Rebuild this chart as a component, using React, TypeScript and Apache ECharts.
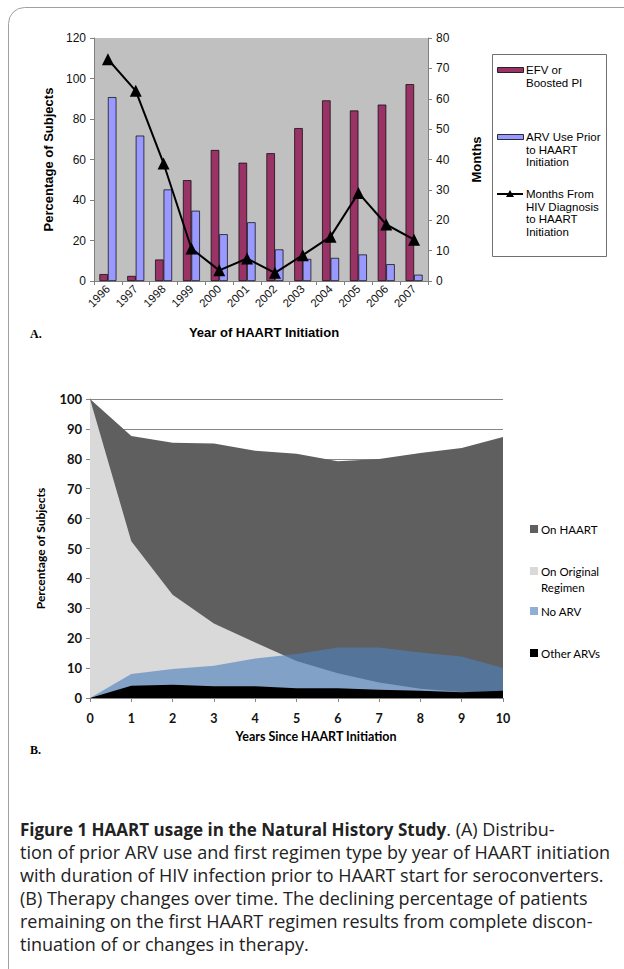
import React, { useEffect, useRef } from "react";
import * as echarts from "echarts";

const years = ["1996", "1997", "1998", "1999", "2000", "2001", "2002", "2003", "2004", "2005", "2006", "2007"];
const efvBoostedPct = [3.4, 2.5, 10.6, 49.8, 64.7, 58.4, 63.1, 75.5, 89.2, 84.2, 87.1, 97.2];
const arvPriorPct = [90.8, 71.8, 45.2, 34.7, 23.1, 29, 15.6, 10.9, 11.4, 13.1, 8.3, 3.1];
const monthsToHaart = [73, 62.6, 38.7, 10.7, 3.5, 7.4, 2.7, 8.5, 14.6, 29, 18.6, 13.6];

const yearsSince = [0, 1, 2, 3, 4, 5, 6, 7, 8, 9, 10];
const onHaart = [100, 87.6, 85.4, 85.1, 82.7, 81.7, 79.2, 79.9, 81.9, 83.6, 87.3];
const onOriginal = [100, 52.4, 34.5, 24.9, 18.6, 12.4, 8.3, 5.2, 3.1, 2.0, 2.0];
const noArv = [0, 8, 9.7, 10.8, 13.2, 14.7, 16.9, 16.9, 15.2, 13.9, 10];
const otherArvs = [0, 4.1, 4.4, 3.9, 3.9, 3.3, 3.3, 2.8, 2.4, 1.9, 2.4];

const pairs = (ys: number[]) => yearsSince.map((x, i) => [x, ys[i]]);

const arial = "Arial, 'Liberation Sans', sans-serif";
const calibri = "Lato, 'Open Sans', sans-serif";
const caption = "'Open Sans', 'Noto Sans', sans-serif";
const capSize = 18;

export default function App() {
  const ref = useRef<HTMLDivElement>(null);
  useEffect(() => {
    if (!ref.current) return;
    const chart = echarts.init(ref.current, null, { renderer: "svg" });
    const txt = (text: string, x: number, y: number, extra: any = {}) => ({
      type: "text",
      style: { text, x, y, fill: "#000", font: `11.5px ${arial}`, verticalAlign: "middle", align: "left", ...extra },
    });
    const capLine = (text: string, y: number) => txt(text, 20, y, { font: `${capSize}px ${caption}`, fill: "#222" });
    chart.setOption({
      animation: false,
      backgroundColor: "#fff",
      grid: [
        { left: 94, top: 38, width: 334, height: 243, show: true, backgroundColor: "#C0C0C0", borderWidth: 0 },
        { left: 90, top: 399, width: 413, height: 299 },
      ],
      xAxis: [
        {
          type: "category",
          gridIndex: 0,
          data: years,
          boundaryGap: true,
          axisLine: { lineStyle: { color: "#808080" } },
          axisTick: { show: true, length: 4, lineStyle: { color: "#808080" } },
          axisLabel: { rotate: 45, fontFamily: arial, fontSize: 11.5, color: "#111", margin: 6 },
        },
        {
          type: "value",
          gridIndex: 1,
          min: 0,
          max: 10,
          interval: 1,
          axisLine: { show: true, lineStyle: { color: "#868686" } },
          axisTick: { show: true, length: 4, lineStyle: { color: "#868686" } },
          axisLabel: { fontFamily: calibri, fontSize: 12.5, fontWeight: "bold", color: "#111", margin: 14 },
          splitLine: { show: false },
        },
      ],
      yAxis: [
        {
          type: "value",
          gridIndex: 0,
          min: 0,
          max: 120,
          interval: 20,
          name: "Percentage of Subjects",
          nameLocation: "middle",
          nameRotate: 90,
          nameGap: 32,
          nameTextStyle: { fontFamily: arial, fontSize: 13, fontWeight: "bold", color: "#000" },
          axisLine: { show: true, lineStyle: { color: "#808080" } },
          axisTick: { show: true, length: 4, lineStyle: { color: "#808080" } },
          axisLabel: { fontFamily: arial, fontSize: 12, color: "#111", margin: 8 },
          splitLine: { show: false },
        },
        {
          type: "value",
          gridIndex: 0,
          position: "right",
          min: 0,
          max: 80,
          interval: 10,
          name: "Months",
          nameLocation: "middle",
          nameRotate: 90,
          nameGap: 42,
          nameTextStyle: { fontFamily: arial, fontSize: 13, fontWeight: "bold", color: "#000" },
          axisLine: { show: true, lineStyle: { color: "#808080" } },
          axisTick: { show: true, length: 4, lineStyle: { color: "#808080" } },
          axisLabel: { fontFamily: arial, fontSize: 12, color: "#111", margin: 8 },
          splitLine: { show: false },
        },
        {
          type: "value",
          gridIndex: 1,
          min: 0,
          max: 100,
          interval: 10,
          name: "Percentage of Subjects",
          nameLocation: "middle",
          nameRotate: 90,
          nameGap: 44,
          nameTextStyle: { fontFamily: calibri, fontSize: 12, fontWeight: "bold", color: "#000" },
          axisLine: { show: true, lineStyle: { color: "#868686" } },
          axisTick: { show: true, length: 4, lineStyle: { color: "#868686" } },
          axisLabel: { fontFamily: calibri, fontSize: 13, fontWeight: "bold", color: "#111", margin: 8 },
          splitLine: { show: true, lineStyle: { color: "#868686", width: 1 } },
        },
      ],
      series: [
        {
          name: "EFV or Boosted PI",
          type: "bar",
          xAxisIndex: 0,
          yAxisIndex: 0,
          data: efvBoostedPct,
          barWidth: 8.5,
          barGap: "0%",
          itemStyle: { color: "#993366", borderColor: "#000", borderWidth: 0.7 },
        },
        {
          name: "ARV Use Prior to HAART Initiation",
          type: "bar",
          xAxisIndex: 0,
          yAxisIndex: 0,
          data: arvPriorPct,
          barWidth: 8.5,
          barGap: "0%",
          itemStyle: { color: "#9999FF", borderColor: "#000", borderWidth: 0.7 },
        },
        {
          name: "Months From HIV Diagnosis to HAART Initiation",
          type: "line",
          xAxisIndex: 0,
          yAxisIndex: 1,
          data: monthsToHaart,
          symbol: "triangle",
          symbolSize: 12,
          itemStyle: { color: "#000" },
          lineStyle: { color: "#000", width: 2 },
          z: 5,
        },
        {
          name: "On HAART",
          type: "line",
          xAxisIndex: 1,
          yAxisIndex: 2,
          data: pairs(onHaart),
          symbol: "none",
          lineStyle: { width: 0, opacity: 0 },
          areaStyle: { color: "#5f5f5f", opacity: 1 },
        },
        {
          name: "On Original Regimen",
          type: "line",
          xAxisIndex: 1,
          yAxisIndex: 2,
          data: pairs(onOriginal),
          symbol: "none",
          lineStyle: { width: 0, opacity: 0 },
          areaStyle: { color: "#d9d9d9", opacity: 1 },
        },
        {
          name: "No ARV",
          type: "line",
          xAxisIndex: 1,
          yAxisIndex: 2,
          data: pairs(noArv),
          symbol: "none",
          lineStyle: { width: 0, opacity: 0 },
          areaStyle: { color: "rgba(79,129,189,0.63)", opacity: 1 },
        },
        {
          name: "Other ARVs",
          type: "line",
          xAxisIndex: 1,
          yAxisIndex: 2,
          data: pairs(otherArvs),
          symbol: "none",
          lineStyle: { width: 0, opacity: 0 },
          areaStyle: { color: "#000", opacity: 1 },
        },
      ],
      graphic: [
        { type: "rect", shape: { x: 8.5, y: 7.5, width: 700, height: 1000, r: 16 }, style: { fill: "none", stroke: "#a0a0a0", lineWidth: 1 }, z: -10 },
        txt("Year of HAART Initiation", 264, 332, { font: `bold 13px ${arial}`, align: "center" }),
        txt("A.", 30, 334, { font: `bold 12px 'Liberation Serif', 'DejaVu Serif', serif` }),
        txt("Years Since HAART Initiation", 316, 736, { font: `bold 12.5px ${calibri}`, align: "center" }),
        txt("B.", 30, 750, { font: `bold 12px 'Liberation Serif', 'DejaVu Serif', serif` }),
        // legend A
        { type: "rect", shape: { x: 492.5, y: 54.5, width: 114, height: 202 }, style: { fill: "#fff", stroke: "#707070", lineWidth: 1 } },
        { type: "rect", shape: { x: 497.5, y: 67.5, width: 26, height: 5 }, style: { fill: "#993366", stroke: "#000", lineWidth: 0.8 } },
        txt("EFV or\nBoosted PI", 526, 64, { verticalAlign: "top", lineHeight: 12.5 }),
        { type: "rect", shape: { x: 497.5, y: 134.5, width: 26, height: 5 }, style: { fill: "#9999FF", stroke: "#000", lineWidth: 0.8 } },
        txt("ARV Use Prior\nto HAART\nInitiation", 526, 131, { verticalAlign: "top", lineHeight: 12.5 }),
        { type: "line", shape: { x1: 497, y1: 194, x2: 523, y2: 194 }, style: { stroke: "#000", lineWidth: 2 } },
        { type: "polygon", shape: { points: [[510, 190], [514, 197], [506, 197]] }, style: { fill: "#000" } },
        txt("Months From\nHIV Diagnosis\nto HAART\nInitiation", 526, 188, { verticalAlign: "top", lineHeight: 12.5 }),
        // legend B
        { type: "rect", shape: { x: 530, y: 525, width: 8, height: 8 }, style: { fill: "#5f5f5f" } },
        txt("On HAART", 541, 529, { font: `11.5px ${calibri}` }),
        { type: "rect", shape: { x: 530, y: 567, width: 8, height: 8 }, style: { fill: "#d9d9d9" } },
        txt("On Original\nRegimen", 541, 563, { font: `11.5px ${calibri}`, verticalAlign: "top", lineHeight: 16 }),
        { type: "rect", shape: { x: 530, y: 607, width: 8, height: 8 }, style: { fill: "rgba(79,129,189,0.63)" } },
        txt("No ARV", 541, 611, { font: `11.5px ${calibri}` }),
        { type: "rect", shape: { x: 530, y: 649, width: 8, height: 8 }, style: { fill: "#000" } },
        txt("Other ARVs", 541, 653, { font: `11.5px ${calibri}` }),
        // caption
        {
          type: "text",
          style: {
            x: 20,
            y: 829,
            verticalAlign: "middle",
            text: "{b|Figure 1 HAART usage in the Natural History Study}{r|. (A) Distribu-}",
            rich: {
              b: { font: `bold 17px ${caption}`, fill: "#222" },
              r: { font: `${capSize}px ${caption}`, fill: "#222" },
            },
          },
        },
        capLine("tion of prior ARV use and first regimen type by year of HAART initiation", 852),
        capLine("with duration of HIV infection prior to HAART start for seroconverters.", 875),
        capLine("(B) Therapy changes over time. The declining percentage of patients", 898),
        capLine("remaining on the first HAART regimen results from complete discon-", 921),
        capLine("tinuation of or changes in therapy.", 944),
      ],
    });
    return () => chart.dispose();
  }, []);
  return <div ref={ref} style={{ position: "absolute", left: 0, top: 0, width: 624, height: 969 }} />;
}
